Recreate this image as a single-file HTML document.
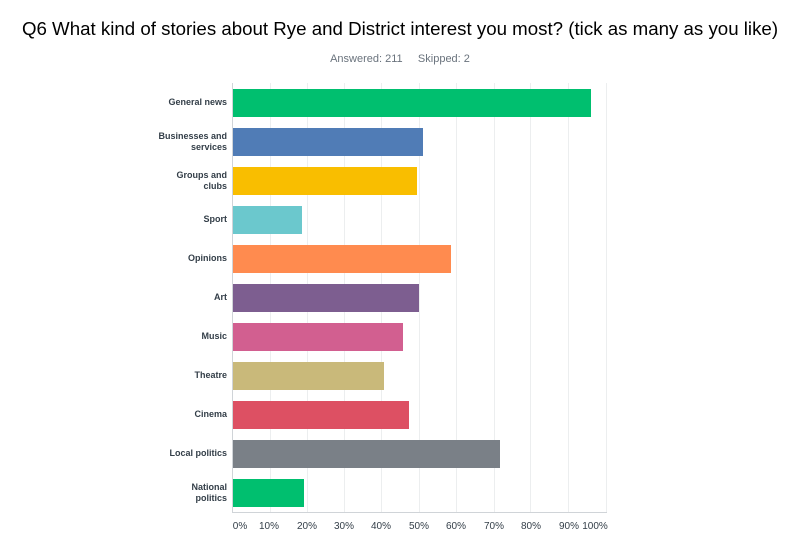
<!DOCTYPE html>
<html><head><style>
body{margin:0;width:800px;height:554px;background:#fff;font-family:"Liberation Sans",sans-serif;position:relative;overflow:hidden}
.t{position:absolute;top:18px;left:0;width:800px;text-align:center;font-size:18.7px;color:#000}
.s{position:absolute;top:53px;left:0;width:800px;text-align:center;font-size:11px;color:#6a737d}
.g{position:absolute;top:83px;height:429px;width:1px;background:#eceeef}
.bar{position:absolute;height:28px;left:233px;box-sizing:border-box}
.lb{position:absolute;right:573px;width:75px;text-align:right;font-size:9px;font-weight:bold;color:#333e48;line-height:11px}
.tk{position:absolute;top:521px;font-size:10px;color:#333e48;width:40px;text-align:center}
</style></head><body>
<div class="t">Q6 What kind of stories about Rye and District interest you most? (tick as many as you like)</div>
<div class="s">Answered: 211 &nbsp;&nbsp;&nbsp; Skipped: 2</div>
<div class="g" style="left:270px"></div><div class="g" style="left:307px"></div><div class="g" style="left:344px"></div><div class="g" style="left:381px"></div><div class="g" style="left:419px"></div><div class="g" style="left:456px"></div><div class="g" style="left:494px"></div><div class="g" style="left:530px"></div><div class="g" style="left:568px"></div><div class="g" style="left:606px"></div>
<div style="position:absolute;left:232px;top:83px;width:1px;height:430px;background:#d0d4d8"></div>
<div style="position:absolute;left:232px;top:512px;width:375px;height:1px;background:#d0d4d8"></div>
<div class="bar" style="top:89px;width:358px;background:#00bf6f"></div>
<div class="bar" style="top:128px;width:190px;background:#507cb6"></div>
<div class="bar" style="top:167px;width:184px;background:#f9be00"></div>
<div class="bar" style="top:206px;width:69px;background:#6bc8cd"></div>
<div class="bar" style="top:245px;width:218px;background:#ff8b4f"></div>
<div class="bar" style="top:284px;width:186px;background:#7d5e90"></div>
<div class="bar" style="top:323px;width:170px;background:#d25f90"></div>
<div class="bar" style="top:362px;width:151px;background:#c9b97a"></div>
<div class="bar" style="top:401px;width:176px;background:#dd5063"></div>
<div class="bar" style="top:440px;width:267px;background:#7a8087"></div>
<div class="bar" style="top:479px;width:71px;background:#00bf6f"></div>
<div class="lb" style="top:97px">General news</div>
<div class="lb" style="top:131px">Businesses and services</div>
<div class="lb" style="top:170px">Groups and clubs</div>
<div class="lb" style="top:214px">Sport</div>
<div class="lb" style="top:253px">Opinions</div>
<div class="lb" style="top:292px">Art</div>
<div class="lb" style="top:331px">Music</div>
<div class="lb" style="top:370px">Theatre</div>
<div class="lb" style="top:409px">Cinema</div>
<div class="lb" style="top:448px">Local politics</div>
<div class="lb" style="top:482px">National<br>politics</div>
<div class="tk" style="left:220px">0%</div><div class="tk" style="left:249px">10%</div><div class="tk" style="left:287px">20%</div><div class="tk" style="left:324px">30%</div><div class="tk" style="left:361px">40%</div><div class="tk" style="left:399px">50%</div><div class="tk" style="left:436px">60%</div><div class="tk" style="left:474px">70%</div><div class="tk" style="left:511px">80%</div><div class="tk" style="left:549px">90%</div><div class="tk" style="left:575px">100%</div>
</body></html>
